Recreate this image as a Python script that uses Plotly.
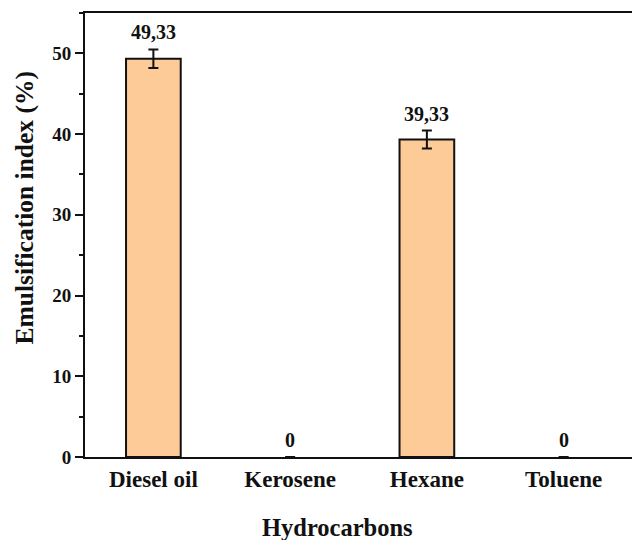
import plotly.graph_objects as go

categories = ["Diesel oil", "Kerosene", "Hexane", "Toluene"]
values = [49.33, 0, 39.33, 0]
errors = [1.15, 0, 1.1, 0]
value_labels = ["49,33", "0", "39,33", "0"]
y_ticks = [0, 10, 20, 30, 40, 50]

FONT = "Liberation Serif, Times New Roman, serif"

fig = go.Figure()
fig.add_trace(go.Bar(
    x=categories, y=values, width=0.4,
    marker=dict(color=["#FCCB98" if v > 0 else "rgba(0,0,0,0)" for v in values],
                line=dict(color="#111111", width=[2 if v > 0 else 0 for v in values])),
    error_y=dict(type="data", array=[e if e > 0 else None for e in errors], visible=True,
                 color="#111111", thickness=2, width=5),
    showlegend=False, hoverinfo="x+y",
))

for c, v, e, t in zip(categories, values, errors, value_labels):
    fig.add_annotation(x=c, y=v + e, text=t, showarrow=False,
                       xref="x", yref="y", yanchor="middle", yshift=17,
                       font=dict(family=FONT, size=20, color="#111111", weight="bold"))

fig.add_annotation(x=0.4625, y=-0.158, xref="paper", yref="paper",
                   text="Hydrocarbons", showarrow=False, yanchor="middle",
                   font=dict(family=FONT, size=24.5, color="#111111", weight="bold"))
fig.add_annotation(x=-0.1115, y=0.5597, xref="paper", yref="paper",
                   text="Emulsification index (%)", showarrow=False, textangle=-90,
                   xanchor="center", yanchor="middle",
                   font=dict(family=FONT, size=25.5, color="#111111", weight="bold"))

fig.update_layout(
    width=632, height=540,
    margin=dict(l=85, r=0, t=13, b=83),
    paper_bgcolor="white", plot_bgcolor="white",
    bargap=0.6,
    xaxis=dict(range=[-0.5, 3.5], showline=True, linecolor="#111111", linewidth=2,
               mirror=True, ticks="", showgrid=False, zeroline=False,
               tickfont=dict(family=FONT, size=23, color="#111111", weight="bold"),
               ticklabelstandoff=0),
    yaxis=dict(range=[0, 55], tickvals=y_ticks, showline=True, linecolor="#111111",
               linewidth=2, ticks="outside", ticklen=8, tickwidth=2, tickcolor="#111111",
               minor=dict(dtick=5, ticks="outside", ticklen=4, tickwidth=2, tickcolor="#111111"),
               showgrid=False, zeroline=False,
               tickfont=dict(family=FONT, size=19, color="#111111", weight="bold")),
)

fig.write_html("out.html", config={"displayModeBar": False},
               post_script="document.body.style.margin='0';document.body.style.overflow='hidden';")
